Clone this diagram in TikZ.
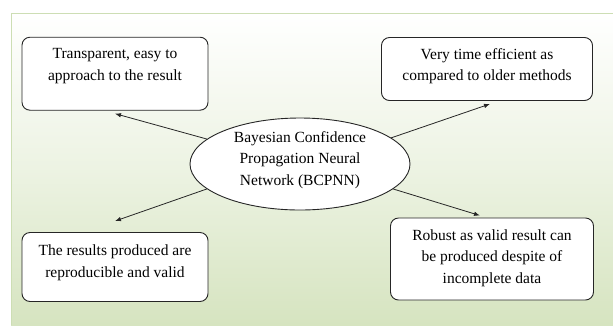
\documentclass[tikz,border=0pt]{standalone}
\usepackage{fontspec}
\setmainfont{Liberation Serif}
\usetikzlibrary{shapes.geometric,arrows.meta}
\definecolor{bgGreen}{RGB}{214,228,192}
\definecolor{frameGreen}{RGB}{205,222,180}
\tikzset{
  card/.style={draw=black!85, line width=0.9pt, rounded corners=8pt, fill=white, inner sep=0pt},
  cardtext/.style={align=center, font=\fontsize{15.5}{21.5}\selectfont, inner sep=0pt},
  arr/.style={draw=black!85, line width=0.8pt, -{Latex[length=6pt,width=4.5pt]}}
}
\begin{document}
\begin{tikzpicture}[x=1pt,y=-1pt]
\useasboundingbox (0,0) rectangle (613,325);
\shade[top color=white, bottom color=bgGreen, middle color=white!55!bgGreen] (11,13) rectangle (613,325);
\draw[frameGreen, line width=1pt] (11,325) -- (11,13) -- (613,13);
% boxes
\node[card, minimum width=186pt, minimum height=73pt] (boxA) at (115,73.7) {};
\node[cardtext] at (115,66) {Transparent, easy to\\approach to the result};
\node[card, minimum width=211pt, minimum height=63pt] (boxB) at (487,69) {};
\node[cardtext] at (487,66) {Very time efficient as\\compared to older methods};
\node[card, minimum width=186pt, minimum height=69pt] (boxC) at (115,267) {};
\node[cardtext] at (115,263) {The results produced are\\reproducible and valid};
\node[card, minimum width=203pt, minimum height=82pt] (boxD) at (492,259) {};
\node[cardtext] at (492,258) {Robust as valid result can\\be produced despite of\\incomplete data};
% ellipse
\node[ellipse, draw=black!85, line width=0.9pt, fill=white, minimum width=220pt, minimum height=92pt, inner sep=0pt] (ell) at (300,164) {};
\node[cardtext] at (300,160) {Bayesian Confidence\\Propagation Neural\\Network (BCPNN)};
% arrows
\draw[arr] (ell.165) -- ([yshift=-3pt]boxA.south);
\draw[arr] (ell.16) -- ([xshift=3pt,yshift=-3pt]boxB.south);
\draw[arr] (ell.195) -- ([yshift=11pt]boxC.north);
\draw[arr] (ell.345) -- ([xshift=-12pt,yshift=2pt]boxD.north);
\end{tikzpicture}
\end{document}
